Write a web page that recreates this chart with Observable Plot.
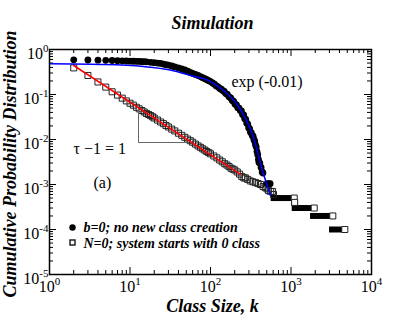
<!DOCTYPE html>
<html><head><meta charset="utf-8">
<script src="https://cdn.jsdelivr.net/npm/d3@7"></script>
<script src="https://cdn.jsdelivr.net/npm/@observablehq/plot@0.6"></script>
<style>
body{margin:0;background:#fff;}
#chart svg{font-family:"Liberation Serif","Times New Roman",serif;background:#fff;}
</style></head><body><div id="chart"></div>
<script>
// b=0 (filled circles)
const circleK = [2,3,4,5,6,7,8,9,10,11,12,13,14,15,16,18,20,22,24,26,28,30,33,36,40,44,48,52,56,60,65,70,75,80,85,90,95,100,106,112,118,124,130,136,142,148,155,162,170,178,186,194,202,210,218,226,234,242,250,258,266,274,282,290,298,306,314,322,330,338,346,354,362,370,378,386,394,400,410,425,438,448,505,530,551];
const circleP = [.59,.585,.58,.575,.57,.565,.56,.555,.55,.548,.545,.542,.54,.536,.532,.52,.51,.50,.49,.475,.46,.45,.43,.41,.39,.37,.35,.33,.31,.295,.28,.265,.25,.237,.225,.213,.203,.194,.18,.17,.155,.148,.136,.131,.122,.117,.105,.1,.089,.084,.074,.07,.061,.059,.051,.05,.044,.043,.036,.035,.029,.028,.023,.022,.018,.0175,.0145,.014,.0122,.0118,.0100,.0092,.0076,.0068,.0054,.0046,.0036,.0031,.0030,.0024,.0019,.0018,.00105,.00105,.00104];
// N=0 (open squares)
const squareK = [2,3,4,5,6,7,8,9,10,11,12,13,14,15,16,17,18,19,20,22,24,26,28,30,33,36,40,44,48,52,56,60,65,70,75,80,85,90,95,100,110,120,130,140,150,160,170,180,190,200,215,230,245,260,271,290,312,335,362,390,418,450,480,505,527,560,590,606];
const squareP = [.39,.265,.19,.146,.115,.097,.083,.072,.064,.058,.052,.048,.044,.041,.038,.036,.034,.032,.030,.027,.0245,.0225,.0205,.019,.017,.0155,.0138,.0124,.0112,.0102,.0094,.0087,.0079,.0072,.0067,.0062,.0058,.0054,.0051,.0048,.0043,.0039,.0035,.0032,.0029,.0027,.0025,.0023,.0022,.0021,.0019,.0017,.0015,.0014,.0014,.0013,.0012,.00115,.0011,.00105,.0010,.0009,.00085,.0008,.00073,.0007,.0007,.0006];
// N=0 tail plateaus (largest classes)
const tailK1 = [618,1110,1128,1905,3280];
const tailK2 = [1096,1110,1942,3306,4660];
const tailP = [5e-4,4e-4,3e-4,2e-4,1e-4];
// exponential fit (blue)
const expK = [1,4.3,14.7,31.8,56.4,100,145,236,342,442,556];
const expP = [.48,.464,.419,.35,.264,.194,.123,.0464,.0112,.00205,.00057];
// power-law fit (red)
const powK = [2,236];
const powP = [.441,.00167];
// slope triangle
const triK = [12.75,12.75,50];
const triP = [.0489,.00858,.00858];
// axes
const xMajor = [1,10,100,1000,10000];
const xLabels = ["10^0","10^1","10^2","10^3","10^4"];
const yMajor = [1e-5,1e-4,1e-3,1e-2,1e-1,1];
const yLabels = ["10^-5","10^-4","10^-3","10^-2","10^-1","10^0"];
const minorMult = [2,3,4,5,6,7,8,9];

const W = 418, H = 323, mL = 49, mR = 47, mT = 49, mB = 49;
const iW = W - mL - mR, iH = H - mT - mB;
const xMinor = xMajor.slice(0, -1).flatMap(d => minorMult.map(m => d * m));
const yMinor = yMajor.slice(0, -1).flatMap(d => minorMult.map(m => d * m));

const circles = circleK.map((k, i) => ({k, p: circleP[i]}));
const squares = squareK.map((k, i) => ({k, p: squareP[i]}));
const tail = tailK1.map((k, i) => ({k1: k, k2: tailK2[i], p: tailP[i]}));
const expFit = expK.map((k, i) => ({k, p: expP[i]}));
const powFit = powK.map((k, i) => ({k, p: powP[i]}));
const tri = triK.map((k, i) => ({k, p: triP[i]}));

const bi = {fontWeight: "bold", fontStyle: "italic", lineAnchor: "middle"};
const la = {lineAnchor: "middle", textAnchor: "start"};

const plot = Plot.plot({
  width: W, height: H,
  marginLeft: mL, marginRight: mR, marginTop: mT, marginBottom: mB,
  x: {type: "log", domain: [1, 1e4]},
  y: {type: "log", domain: [1e-5, 1]},
  marks: [
    // tick marks (inside, mirrored)
    Plot.tickX(xMajor, {x: d => d, insetBottom: iH - 7, stroke: "black"}),
    Plot.tickX(xMajor, {x: d => d, insetTop: iH - 7, stroke: "black"}),
    Plot.tickX(xMinor, {x: d => d, insetBottom: iH - 4, stroke: "black"}),
    Plot.tickX(xMinor, {x: d => d, insetTop: iH - 4, stroke: "black"}),
    Plot.tickY(yMajor, {y: d => d, insetRight: iW - 7, stroke: "black"}),
    Plot.tickY(yMajor, {y: d => d, insetLeft: iW - 7, stroke: "black"}),
    Plot.tickY(yMinor, {y: d => d, insetRight: iW - 4, stroke: "black"}),
    Plot.tickY(yMinor, {y: d => d, insetLeft: iW - 4, stroke: "black"}),
    Plot.axisX(xMajor, {anchor: "bottom", tickSize: 0, tickPadding: 6, fontSize: 16, label: null,
      tickFormat: d => xLabels[xMajor.indexOf(d)]}),
    Plot.axisY(yMajor, {anchor: "left", tickSize: 0, tickPadding: 1, fontSize: 16, dy: 4, label: null,
      tickFormat: d => yLabels[yMajor.indexOf(d)]}),
    // data
    Plot.ruleY(tail, {y: "p", x1: "k1", x2: "k2", stroke: "black", strokeWidth: 6, strokeLinecap: "square"}),
    Plot.dot(squares, {x: "k", y: "p", symbol: "square", r: 3.4, stroke: "#222", strokeWidth: 1, fill: "none"}),
    Plot.dot(tail, {x: "k2", y: "p", symbol: "square", r: 3.4, stroke: "#222", strokeWidth: 1, fill: "white"}),
    Plot.dot(circles, {x: "k", y: "p", r: 3.4, fill: "black"}),
    Plot.line(tri, {x: "k", y: "p", stroke: "#666", strokeWidth: 1}),
    Plot.line(powFit, {x: "k", y: "p", stroke: "#ff0000", strokeWidth: 1.5}),
    Plot.line(expFit, {x: "k", y: "p", stroke: "#0000ff", strokeWidth: 1.5, curve: "monotone-x"}),
    Plot.frame({stroke: "black", strokeWidth: 1.5}),
    // annotations
    Plot.text(["exp (-0.01)"], {frameAnchor: "top-left", dx: 182, dy: 32, fontSize: 16, ...la}),
    Plot.text(["τ −1 = 1"], {frameAnchor: "top-left", dx: 24, dy: 99, fontSize: 16, ...la}),
    Plot.text(["(a)"], {frameAnchor: "top-left", dx: 44, dy: 133, fontSize: 16, ...la}),
    // legend
    Plot.dot([0], {frameAnchor: "bottom-left", dx: 23, dy: -47, r: 3.2, fill: "black"}),
    Plot.dot([0], {frameAnchor: "bottom-left", dx: 23, dy: -32, r: 2.8, symbol: "square", fill: "white", stroke: "#222"}),
    Plot.text(["b=0; no new class creation"], {frameAnchor: "bottom-left", dx: 34, dy: -47, textAnchor: "start", fontSize: 14, ...bi}),
    Plot.text(["N=0; system starts with 0 class"], {frameAnchor: "bottom-left", dx: 34, dy: -31, textAnchor: "start", fontSize: 14, ...bi}),
    // titles
    Plot.text(["Simulation"], {frameAnchor: "top", dx: 2, dy: -26, fontSize: 18, textAnchor: "middle", ...bi}),
    Plot.text(["Class Size, k"], {frameAnchor: "bottom", dx: 2, dy: 32, fontSize: 18, textAnchor: "middle", ...bi}),
    Plot.text(["Cumulative Probability Distribution"], {frameAnchor: "left", dx: -39, dy: 2, rotate: -90, fontSize: 18, textAnchor: "middle", ...bi})
  ]
});

d3.select(plot).selectAll('g[aria-label$="tick label"] text').each(function() {
  const parts = this.textContent.split("^");
  if (parts.length !== 2) return;
  const s = d3.select(this);
  s.text(null);
  s.append("tspan").text(parts[0]);
  s.append("tspan").attr("dy", "-0.6em").attr("font-size", "11px").text(parts[1]);
});

document.getElementById("chart").append(plot);
</script></body></html>
